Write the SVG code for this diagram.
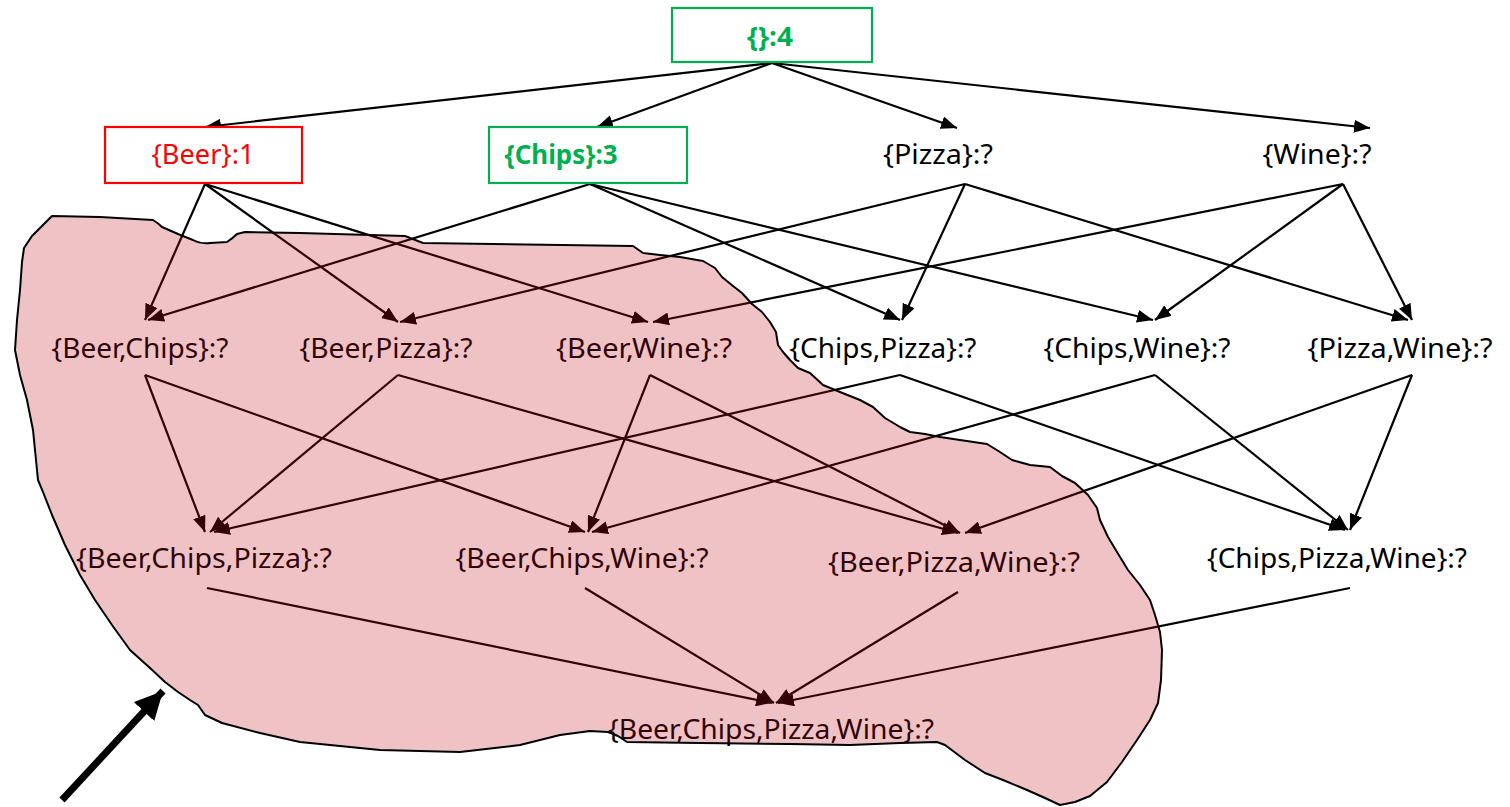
<svg xmlns="http://www.w3.org/2000/svg" width="1510" height="807" viewBox="0 0 1510 807">
  <style>
    .lbl { font-family: "Noto Sans", "Open Sans", sans-serif; font-size: 27px; fill: #000; text-anchor: middle; }
    .bold { font-weight: bold; }
    .green { fill: #00B050; }
    .red { fill: #FF0000; }
    .box { fill: #fff; stroke-width: 2.2; }
    .edge { stroke: #000; stroke-width: 2.2; fill: none; marker-end: url(#tip); }
  </style>
  <defs>
    <marker id="tip" markerUnits="userSpaceOnUse" markerWidth="17" markerHeight="13" refX="16" refY="6.5" orient="auto">
      <path d="M0,0 L16,6.5 L0,13 Z" fill="#000"/>
    </marker>
    <marker id="bigtip" markerUnits="userSpaceOnUse" markerWidth="30" markerHeight="28" refX="28" refY="14" orient="auto">
      <path d="M0,0 L28,14 L0,28 Z" fill="#000"/>
    </marker>
  </defs>
  <rect width="1510" height="807" fill="#fff"/>

  <!-- lattice edges -->
  <g id="connectors">
    <line class="edge" x1="772" y1="63" x2="205" y2="127"/>
    <line class="edge" x1="772" y1="63" x2="597" y2="127"/>
    <line class="edge" x1="772" y1="63" x2="957" y2="128"/>
    <line class="edge" x1="772" y1="63" x2="1370" y2="128"/>

    <line class="edge" x1="205" y1="184" x2="145" y2="320"/>
    <line class="edge" x1="205" y1="184" x2="398" y2="322"/>
    <line class="edge" x1="205" y1="184" x2="648" y2="322"/>

    <line class="edge" x1="590" y1="184" x2="148" y2="320"/>
    <line class="edge" x1="590" y1="184" x2="900" y2="320"/>
    <line class="edge" x1="590" y1="184" x2="1153" y2="320"/>

    <line class="edge" x1="965" y1="184" x2="400" y2="322"/>
    <line class="edge" x1="965" y1="184" x2="902" y2="320"/>
    <line class="edge" x1="965" y1="184" x2="1408" y2="320"/>

    <line class="edge" x1="1343" y1="184" x2="653" y2="322"/>
    <line class="edge" x1="1343" y1="184" x2="1155" y2="320"/>
    <line class="edge" x1="1343" y1="184" x2="1412" y2="320"/>

    <line class="edge" x1="145" y1="375" x2="205" y2="532"/>
    <line class="edge" x1="145" y1="375" x2="585" y2="532"/>
    <line class="edge" x1="398" y1="375" x2="210" y2="532"/>
    <line class="edge" x1="398" y1="375" x2="958" y2="533"/>
    <line class="edge" x1="650" y1="375" x2="588" y2="532"/>
    <line class="edge" x1="650" y1="375" x2="960" y2="533"/>
    <line class="edge" x1="900" y1="375" x2="214" y2="532"/>
    <line class="edge" x1="900" y1="375" x2="1345" y2="530"/>
    <line class="edge" x1="1155" y1="375" x2="592" y2="532"/>
    <line class="edge" x1="1155" y1="375" x2="1348" y2="530"/>
    <line class="edge" x1="1412" y1="375" x2="965" y2="533"/>
    <line class="edge" x1="1412" y1="375" x2="1350" y2="530"/>

    <line class="edge" x1="207" y1="588" x2="772" y2="703"/>
    <line class="edge" x1="585" y1="588" x2="774" y2="703"/>
    <line class="edge" x1="958" y1="592" x2="776" y2="703"/>
    <line class="edge" x1="1350" y1="588" x2="778" y2="703"/>
  </g>

  <!-- itemset nodes -->
  <g id="n-empty">
    <rect class="box" x="672" y="8" width="200" height="54" stroke="#00B050"/>
    <text class="lbl bold green" x="770" y="46" textLength="46" lengthAdjust="spacingAndGlyphs">{}:4</text>
  </g>
  <g id="n-beer">
    <rect class="box" x="105" y="127" width="197" height="56" stroke="#FF0000"/>
    <text class="lbl red" x="203" y="164" textLength="103" lengthAdjust="spacingAndGlyphs">{Beer}:1</text>
  </g>
  <g id="n-chips">
    <rect class="box" x="489" y="127" width="198" height="56" stroke="#00B050"/>
    <text class="lbl bold green" x="561" y="164" textLength="113" lengthAdjust="spacingAndGlyphs">{Chips}:3</text>
  </g>
  <g id="n-pizza">
    <text class="lbl" x="938" y="164" textLength="110" lengthAdjust="spacingAndGlyphs">{Pizza}:?</text>
  </g>
  <g id="n-wine">
    <text class="lbl" x="1317" y="164" textLength="109" lengthAdjust="spacingAndGlyphs">{Wine}:?</text>
  </g>

  <g id="n-beer-chips">
    <text class="lbl" x="140" y="358" textLength="177" lengthAdjust="spacingAndGlyphs">{Beer,Chips}:?</text>
  </g>
  <g id="n-beer-pizza">
    <text class="lbl" x="386" y="358" textLength="173" lengthAdjust="spacingAndGlyphs">{Beer,Pizza}:?</text>
  </g>
  <g id="n-beer-wine">
    <text class="lbl" x="644" y="358" textLength="176" lengthAdjust="spacingAndGlyphs">{Beer,Wine}:?</text>
  </g>
  <g id="n-chips-pizza">
    <text class="lbl" x="883" y="358" textLength="187" lengthAdjust="spacingAndGlyphs">{Chips,Pizza}:?</text>
  </g>
  <g id="n-chips-wine">
    <text class="lbl" x="1137" y="358" textLength="187" lengthAdjust="spacingAndGlyphs">{Chips,Wine}:?</text>
  </g>
  <g id="n-pizza-wine">
    <text class="lbl" x="1400" y="358" textLength="185" lengthAdjust="spacingAndGlyphs">{Pizza,Wine}:?</text>
  </g>

  <g id="n-beer-chips-pizza">
    <text class="lbl" x="204" y="568" textLength="256" lengthAdjust="spacingAndGlyphs">{Beer,Chips,Pizza}:?</text>
  </g>
  <g id="n-beer-chips-wine">
    <text class="lbl" x="582" y="568" textLength="253" lengthAdjust="spacingAndGlyphs">{Beer,Chips,Wine}:?</text>
  </g>
  <g id="n-beer-pizza-wine">
    <text class="lbl" x="954" y="572" textLength="252" lengthAdjust="spacingAndGlyphs">{Beer,Pizza,Wine}:?</text>
  </g>
  <g id="n-chips-pizza-wine">
    <text class="lbl" x="1337" y="568" textLength="260" lengthAdjust="spacingAndGlyphs">{Chips,Pizza,Wine}:?</text>
  </g>

  <g id="n-all">
    <text class="lbl" x="771" y="739" textLength="326" lengthAdjust="spacingAndGlyphs">{Beer,Chips,Pizza,Wine}:?</text>
  </g>

  <!-- translucent pruned region over the lattice -->
  <g id="pruned-region">
    <path fill="#C0101A" fill-opacity="0.25" stroke="#000" stroke-width="2" stroke-linejoin="round"
      d="M52,216 L100,217 L153,220 Q158,223 162,227 L178,234 L193,240 Q200,244 210,243 L227,242 Q233,238 237,234 L245,232 L300,233 L405,236 L423,243 L633,246 L643,253 L660,255 L680,257 L703,261 L715,268 L722,277 L733,286 L742,293 L752,304 L762,312 L770,322 L776,332 L778,345 L783,352 L790,360 L798,368 L810,373 L823,385 L840,392 L860,400 L873,407 L885,418 L900,427 L910,432 L925,434 L940,437 L960,440 L987,444 L1000,452 L1012,460 L1030,465 L1050,467 L1062,476 L1075,483 L1088,495 L1097,508 L1100,520 L1108,537 L1117,552 L1128,570 L1140,585 L1150,600 L1155,615 L1160,632 L1162,650 L1161,680 L1158,703 L1150,720 L1137,740 L1122,762 L1107,782 L1090,796 L1075,802 L1060,805 L1045,798 L1027,790 L1003,780 L985,773 L965,760 L945,745 L937,742 L900,743 L850,745 L790,744 L700,743 L627,742 L618,736 L608,732 L590,731 L560,735 L520,745 L460,752 L380,750 L330,745 L300,742 L260,733 L222,723 L205,715 L198,705 L190,700 L178,692 L165,682 L150,668 L130,650 L112,625 L95,600 L80,575 L65,545 L52,515 L43,492 L38,480 L36,460 L33,430 L27,400 L20,375 L15,350 L17,320 L20,290 L22,262 L24,248 L32,236 L42,226 Z"/>
  </g>

  <!-- pointer arrow -->
  <g id="pointer">
    <line x1="62" y1="800" x2="163" y2="691" stroke="#000" stroke-width="7" marker-end="url(#bigtip)"/>
  </g>
</svg>
